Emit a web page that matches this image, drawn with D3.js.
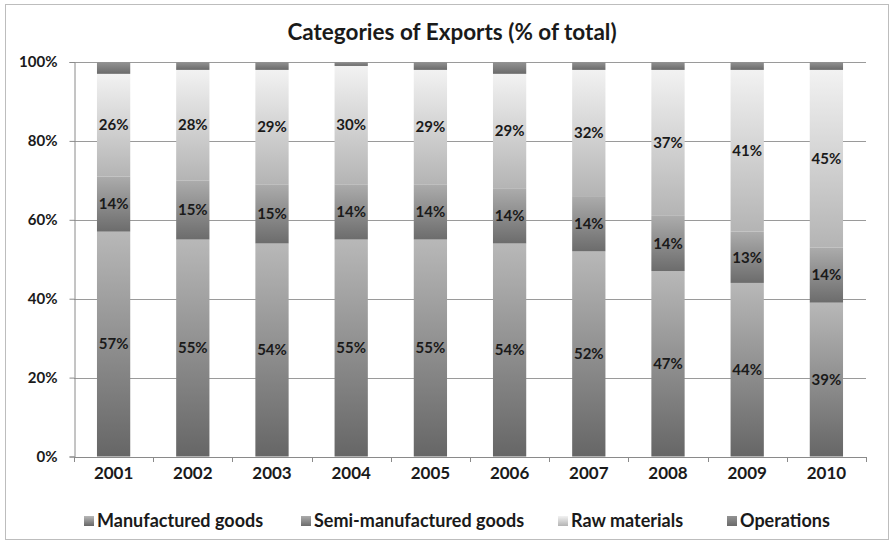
<!DOCTYPE html>
<html>
<head>
<meta charset="utf-8">
<script src="https://cdn.jsdelivr.net/npm/d3@7"></script>
<style>
  body { margin: 0; background: #fff; }
  svg text { font-family: Lato, "Open Sans", sans-serif; font-weight: bold; fill: #1a1a1a; }
</style>
</head>
<body>
<svg id="chart"></svg>
<script>
let years = ['2001', '2002', '2003', '2004', '2005', '2006', '2007', '2008', '2009', '2010']
let seriesNames = ['Manufactured goods', 'Semi-manufactured goods', 'Raw materials', 'Operations']
let manufactured = [57, 55, 54, 55, 55, 54, 52, 47, 44, 39]
let semiManufactured = [14, 15, 15, 14, 14, 14, 14, 14, 13, 14]
let rawMaterials = [26, 28, 29, 30, 29, 29, 32, 37, 41, 45]
let operations = [3, 2, 2, 1, 2, 3, 2, 2, 2, 2]
let yTicks = [0, 20, 40, 60, 80, 100]

let width = 894
let height = 545
let margin = { left: 74, right: 28, top: 62, bottom: 88 }

// light (top) -> dark (bottom) for each series
let gradients = [
  ['#b8b8b8', '#666666'],
  ['#acacac', '#6c6c6c'],
  ['#f2f2f2', '#b4b4b4'],
  ['#939393', '#6a6a6a']
]

let svg = d3.select('#chart')
  .attr('width', width)
  .attr('height', height)

let defs = svg.append('defs')
gradients.forEach((g, i) => {
  let lg = defs.append('linearGradient')
    .attr('id', 'grad' + i)
    .attr('x1', 0).attr('y1', 0).attr('x2', 0).attr('y2', 1)
  lg.append('stop').attr('offset', '0%').attr('stop-color', g[0])
  lg.append('stop').attr('offset', '100%').attr('stop-color', g[1])
})

// outer frame
svg.append('rect')
  .attr('x', 5.5).attr('y', 4.5)
  .attr('width', 883).attr('height', 535)
  .attr('fill', '#fff')
  .attr('stroke', '#bdbdbd')

let table = years.map((y, i) => ({
  year: y,
  'Manufactured goods': manufactured[i],
  'Semi-manufactured goods': semiManufactured[i],
  'Raw materials': rawMaterials[i],
  'Operations': operations[i]
}))

let stacked = d3.stack().keys(seriesNames)(table)

let xScale = d3.scaleBand()
  .domain(years)
  .range([margin.left, width - margin.right])
  .paddingInner(0.58)
  .paddingOuter(0.29)

let yScale = d3.scaleLinear()
  .domain([0, 100])
  .range([height - margin.bottom - 0.5, margin.top])

// gridlines
svg.append('g')
  .selectAll('line')
  .data(yTicks.filter(t => t > 0))
  .enter()
  .append('line')
  .attr('x1', margin.left)
  .attr('x2', width - margin.right)
  .attr('y1', d => Math.round(yScale(d)) + 0.5)
  .attr('y2', d => Math.round(yScale(d)) + 0.5)
  .attr('stroke', '#9a9a9a')
  .attr('stroke-width', 1)

// bars
let layers = svg.append('g')
  .selectAll('g')
  .data(stacked)
  .enter()
  .append('g')
  .attr('fill', (d, i) => 'url(#grad' + i + ')')

layers.selectAll('rect')
  .data(d => d)
  .enter()
  .append('rect')
  .attr('x', d => xScale(d.data.year))
  .attr('width', xScale.bandwidth())
  .attr('y', d => yScale(d[1]))
  .attr('height', d => yScale(d[0]) - yScale(d[1]))

// data labels (not for Operations)
stacked.slice(0, 3).forEach(layer => {
  svg.append('g')
    .selectAll('text')
    .data(layer)
    .enter()
    .append('text')
    .attr('x', d => xScale(d.data.year) + xScale.bandwidth() / 2)
    .attr('y', d => yScale((d[0] + d[1]) / 2))
    .attr('dy', '0.35em')
    .attr('text-anchor', 'middle')
    .style('font-size', '15px')
    .text(d => (d[1] - d[0]) + '%')
})

// axes
let yAxis = d3.axisLeft(yScale)
  .tickValues(yTicks)
  .tickFormat(d => d + '%')
  .tickSize(5)
  .tickPadding(12)

svg.append('g')
  .attr('transform', 'translate(' + (margin.left + 0.5) + ',0)')
  .call(yAxis)
  .call(g => g.selectAll('path, line').attr('stroke', '#8a8a8a'))
  .call(g => g.selectAll('text').style('font-size', '15px').attr('fill', '#1a1a1a'))

let xAxis = d3.axisBottom(xScale)
  .tickSize(0)
  .tickPadding(10)

let xg = svg.append('g')
  .attr('transform', 'translate(0,' + (height - margin.bottom) + ')')
  .call(xAxis)
xg.select('path').attr('stroke', '#8a8a8a').attr('d', 'M' + margin.left + ',0.5H' + (width - margin.right))
xg.selectAll('text').style('font-size', '17px').attr('fill', '#1a1a1a')

// category separator ticks
let step = xScale.step()
let sepX = d3.range(years.length + 1).map(i => margin.left + i * step)
xg.selectAll('.sep')
  .data(sepX)
  .enter()
  .append('line')
  .attr('class', 'sep')
  .attr('x1', d => Math.round(d) + 0.5)
  .attr('x2', d => Math.round(d) + 0.5)
  .attr('y1', 0)
  .attr('y2', 5)
  .attr('stroke', '#8a8a8a')

// title
svg.append('text')
  .attr('x', 452)
  .attr('y', 40)
  .attr('text-anchor', 'middle')
  .style('font-size', '22.5px')
  .text('Categories of Exports (% of total)')

// legend
let legendX = [84, 301, 558, 727]
let legend = svg.append('g')
  .selectAll('g')
  .data(seriesNames)
  .enter()
  .append('g')
  .attr('transform', (d, i) => 'translate(' + legendX[i] + ',516)')

legend.append('rect')
  .attr('width', 10)
  .attr('height', 10)
  .attr('fill', (d, i) => 'url(#grad' + i + ')')

legend.append('text')
  .attr('x', 13)
  .attr('y', 5)
  .attr('dy', '0.35em')
  .style('font-size', '18px')
  .text(d => d)
</script>
</body>
</html>
